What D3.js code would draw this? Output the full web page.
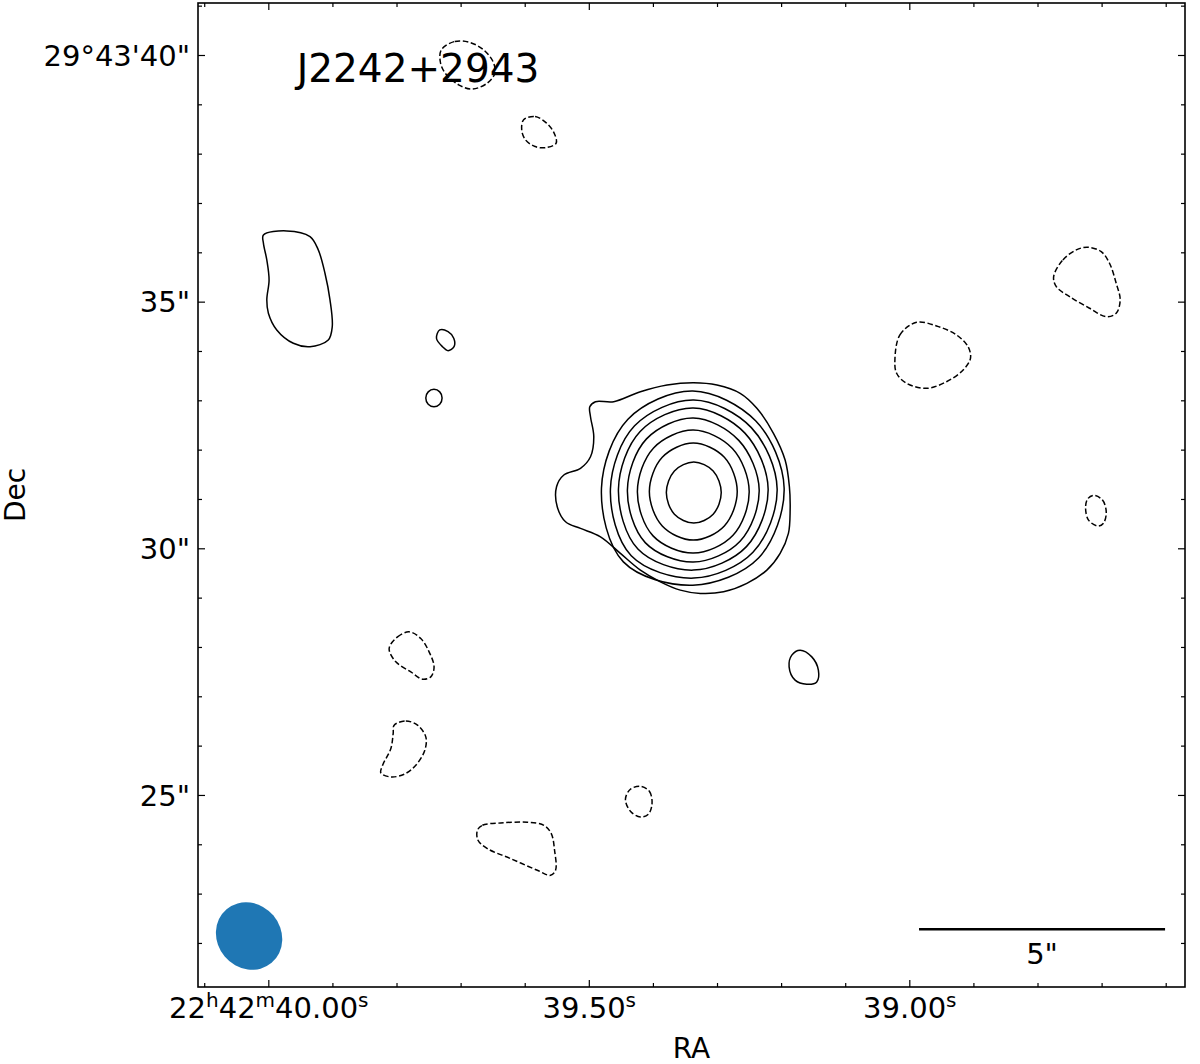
<!DOCTYPE html>
<html>
<head>
<meta charset="utf-8">
<script src="https://cdn.jsdelivr.net/npm/d3@7"></script>
<style>
  html, body { margin: 0; padding: 0; background: #fff; }
  svg { display: block; font-family: "DejaVu Sans", sans-serif; }
</style>
</head>
<body>
<svg id="chart" width="1200" height="1064"></svg>
<script>
// ---------------- DATA ----------------
// Field limits: RA seconds (22h42m..) and Dec arcsec (29°43'..)
const raLimits = [40.1097, 38.5699];
const decLimits = [41.054, 21.107];

// Source reference position (offsets of contours are relative to this)
const sourceRA = 39.337;     // s
const sourceDec = 31.14;     // arcsec
const decDegrees = 29.7253;

// Ticks
const raMajorTicks = [40.00, 39.50, 39.00];
const raMinorTicks = [40.1, 39.9, 39.8, 39.7, 39.6, 39.4, 39.3, 39.2, 39.1, 38.9, 38.8, 38.7, 38.6];
const raTickLabels = [
  [["22", "h"], ["42", "m"], ["40.00", "s"]],
  [["39.50", "s"]],
  [["39.00", "s"]]
];
const decMajorTicks = [40, 35, 30, 25];
const decMinorTicks = [41, 39, 38, 37, 36, 34, 33, 32, 31, 29, 28, 27, 26, 24, 23, 22];
const decTickLabels = ["29°43'40\"", "35\"", "30\"", "25\""];

// Contours: [east offset arcsec, north offset arcsec]
const centralOuter = [[2.103,1.730],[1.988,1.832],[1.617,1.832],[1.075,2.034],[0.533,2.170],[-0.006,2.217],[-0.481,2.170],[-0.953,2.002],[-1.292,1.698],[-1.629,1.191],[-1.866,0.649],[-1.953,0.108],[-1.968,-0.365],[-1.933,-0.838],[-1.765,-1.243],[-1.495,-1.582],[-1.089,-1.852],[-0.615,-2.022],[-0.142,-2.055],[0.264,-1.988],[0.669,-1.819],[1.075,-1.582],[1.481,-1.243],[1.886,-0.907],[2.292,-0.736],[2.596,-0.602],[2.765,-0.298],[2.779,0.108],[2.631,0.345],[2.292,0.481],[2.089,0.716],[2.022,1.122],[2.089,1.527]];
const ring1 = [[-0.568,-0.010],[-0.404,0.428],[-0.010,0.609],[0.384,0.428],[0.548,-0.010],[0.384,-0.448],[-0.010,-0.629],[-0.404,-0.448]];
const ring2 = [[-0.893,0.010],[-0.631,0.706],[0,0.994],[0.631,0.706],[0.893,0.010],[0.631,-0.686],[0,-0.974],[-0.631,-0.686]];
const ring3 = [[-1.136,0.010],[-0.795,0.883],[0,1.257],[0.807,0.895],[1.136,0.010],[0.818,-0.888],[0,-1.237],[-0.807,-0.875]];
const ring4 = [[-1.339,0.041],[-0.924,1.048],[0,1.501],[0.951,1.078],[1.339,0.041],[0.977,-1.025],[0,-1.419],[-0.951,-0.996]];
const ring5 = [[-1.521,0.061],[-1.049,1.195],[0,1.704],[1.080,1.228],[1.521,0.061],[1.126,-1.155],[0,-1.582],[-1.080,-1.106]];
const ring6 = [[-1.704,0.061],[-1.179,1.306],[-0.010,1.866],[1.193,1.343],[1.684,0.061],[1.261,-1.293],[-0.010,-1.744],[-1.213,-1.221]];
const ring7 = [[-1.846,0.081],[-1.271,1.439],[0.010,2.049],[1.328,1.478],[1.866,0.081],[1.421,-1.415],[0.010,-1.887],[-1.326,-1.336]];
const blobWest = [[8.736,5.213],[8.262,5.294],[7.789,5.179],[7.621,4.909],[7.485,4.436],[7.383,3.895],[7.337,3.353],[7.418,3.083],[7.789,2.947],[8.128,3.016],[8.465,3.286],[8.635,3.625],[8.667,3.895],[8.621,4.300],[8.667,4.706],[8.736,5.045]];
const ovalNW = [[5.152,3.286],[4.984,3.252],[4.868,3.118],[4.862,2.947],[4.984,2.866],[5.097,2.947],[5.219,3.118]];
const ovalW = [[5.105,1.907],[5.153,2.031],[5.270,2.083],[5.387,2.031],[5.436,1.907],[5.387,1.782],[5.270,1.730],[5.153,1.782]];
const ovalSE = [[-2.170,-3.205],[-2.408,-3.341],[-2.542,-3.611],[-2.509,-3.848],[-2.306,-3.895],[-2.069,-3.813],[-1.947,-3.544],[-2.002,-3.306]];

const negTitle = [[5.120,8.966],[4.848,9.134],[4.538,9.114],[4.264,8.966],[4.071,8.728],[4.030,8.493],[4.187,8.290],[4.497,8.168],[4.769,8.256],[5.043,8.493],[5.142,8.728]];
const negNorth = [[3.448,7.546],[3.215,7.613],[2.982,7.479],[2.828,7.276],[2.787,7.073],[2.982,6.984],[3.215,7.004],[3.410,7.140],[3.487,7.343]];
const negNE = [[-7.323,4.367],[-7.511,4.706],[-7.783,4.909],[-8.018,4.963],[-8.290,4.874],[-8.458,4.639],[-8.594,4.233],[-8.675,3.895],[-8.594,3.625],[-8.392,3.556],[-8.053,3.726],[-7.647,3.961],[-7.377,4.164]];
const negE = [[-4.097,2.677],[-4.199,3.185],[-4.538,3.442],[-4.943,3.367],[-5.349,3.185],[-5.584,2.947],[-5.633,2.712],[-5.483,2.475],[-5.146,2.237],[-4.740,2.103],[-4.335,2.205],[-4.132,2.408]];
const negEsmall = [[-8.134,-0.067],[-8.316,-0.162],[-8.392,-0.406],[-8.337,-0.629],[-8.225,-0.690],[-8.032,-0.568],[-7.972,-0.325],[-8.012,-0.142]];
const negSW1 = [[6.181,-3.170],[6.010,-2.935],[5.775,-2.834],[5.538,-2.968],[5.369,-3.239],[5.268,-3.544],[5.335,-3.746],[5.503,-3.793],[5.740,-3.645],[6.045,-3.442]];
const negSW2 = [[6.079,-4.726],[5.842,-4.639],[5.605,-4.726],[5.436,-4.963],[5.456,-5.233],[5.639,-5.538],[5.876,-5.720],[6.146,-5.775],[6.349,-5.694],[6.314,-5.538],[6.146,-5.199],[6.099,-4.895]];
const negS = [[1.075,-5.963],[0.893,-6.065],[0.838,-6.308],[0.913,-6.531],[1.075,-6.586],[1.278,-6.471],[1.379,-6.227],[1.278,-6.024]];
const negSS = [[4.387,-6.856],[4.286,-6.755],[3.915,-6.708],[3.373,-6.694],[3.036,-6.755],[2.886,-6.923],[2.819,-7.262],[2.799,-7.667],[2.901,-7.769],[3.170,-7.667],[3.712,-7.430],[4.185,-7.227],[4.375,-7.059]];

const positiveContours = [centralOuter, ring1, ring2, ring3, ring4, ring5, ring6, ring7, blobWest, ovalNW, ovalW, ovalSE];
const negativeContours = [negTitle, negNorth, negNE, negE, negEsmall, negSW1, negSW2, negS, negSS];

// Beam (position RA s / Dec arcsec, axes arcsec, PA deg)
const beamRA = 40.030, beamDec = 22.14;
const beamMaj = 1.42, beamMin = 1.29, beamPA = 40;

// Scale bar
const scaleBarLength = 5;          // arcsec
const scaleBarEndRA = 38.601, scaleBarDec = 22.28;
const scaleBarLabel = "5\"";

const titleText = "J2242+2943";
const xLabel = "RA", yLabel = "Dec";

// ---------------- DRAW ----------------
const svg = d3.select("#chart");
const L = 198, T = 3, PW = 987, PH = 984;
const x = d3.scaleLinear().domain(raLimits).range([L, L + PW]);
const y = d3.scaleLinear().domain(decLimits).range([T, T + PH]);
const arcsecPerSec = 15 * Math.cos(decDegrees * Math.PI / 180);
const pxPerArcsec = Math.abs(y(0) - y(1));

svg.append("defs").append("clipPath").attr("id", "clip")
  .append("rect").attr("x", L).attr("y", T).attr("width", PW).attr("height", PH);

const plot = svg.append("g").attr("clip-path", "url(#clip)");

const line = d3.line()
  .x(d => x(sourceRA + d[0] / arcsecPerSec))
  .y(d => y(sourceDec + d[1]))
  .curve(d3.curveCatmullRomClosed.alpha(0.5));

plot.selectAll("path.pos").data(positiveContours).join("path")
  .attr("class", "pos").attr("d", line)
  .attr("fill", "none").attr("stroke", "#000").attr("stroke-width", 1.5);

plot.selectAll("path.neg").data(negativeContours).join("path")
  .attr("class", "neg").attr("d", line)
  .attr("fill", "none").attr("stroke", "#000").attr("stroke-width", 1.5)
  .attr("stroke-dasharray", "5.5,2.6");

// Beam
plot.append("ellipse")
  .attr("cx", 0).attr("cy", 0)
  .attr("rx", beamMaj / 2 * pxPerArcsec)
  .attr("ry", beamMin / 2 * pxPerArcsec)
  .attr("transform", `translate(${x(beamRA)},${y(beamDec)}) rotate(${90 - beamPA})`)
  .attr("fill", "#1f77b4");

// Scale bar
const sbX1 = x(scaleBarEndRA + scaleBarLength / arcsecPerSec), sbX2 = x(scaleBarEndRA);
plot.append("line")
  .attr("x1", sbX1).attr("x2", sbX2)
  .attr("y1", y(scaleBarDec)).attr("y2", y(scaleBarDec))
  .attr("stroke", "#000").attr("stroke-width", 2.5);
svg.append("text")
  .attr("x", (sbX1 + sbX2) / 2).attr("y", y(scaleBarDec) + 35)
  .attr("text-anchor", "middle").attr("font-size", 29)
  .text(scaleBarLabel);

// Title
svg.append("text")
  .attr("x", L + 0.1 * PW).attr("y", T + 79)
  .attr("font-size", 39).text(titleText);

// Axes ticks (inward on all sides)
function tickAxis(axisFn, scale, vals, size, transform) {
  const g = svg.append("g").attr("transform", transform)
    .call(axisFn(scale).tickValues(vals).tickSize(size).tickSizeOuter(0).tickFormat(""));
  g.select(".domain").remove();
  g.selectAll(".tick line").attr("stroke", "#000").attr("stroke-width", 1.2);
  return g;
}
// bottom
const gBottom = tickAxis(d3.axisBottom, x, raMajorTicks, -7, `translate(0,${T + PH})`);
tickAxis(d3.axisBottom, x, raMinorTicks, -4, `translate(0,${T + PH})`);
// top
tickAxis(d3.axisTop, x, raMajorTicks, -7, `translate(0,${T})`);
tickAxis(d3.axisTop, x, raMinorTicks, -4, `translate(0,${T})`);
// left
const gLeft = tickAxis(d3.axisLeft, y, decMajorTicks, -7, `translate(${L},0)`);
tickAxis(d3.axisLeft, y, decMinorTicks, -4, `translate(${L},0)`);
// right
tickAxis(d3.axisRight, y, decMajorTicks, -7, `translate(${L + PW},0)`);
tickAxis(d3.axisRight, y, decMinorTicks, -4, `translate(${L + PW},0)`);

// Bottom labels with superscripts
gBottom.selectAll(".tick").each(function (d, i) {
  const t = d3.select(this).append("text")
    .attr("x", 0).attr("y", 31)
    .attr("text-anchor", "middle").attr("fill", "#000")
    .attr("font-size", 29).attr("font-family", "DejaVu Sans, sans-serif");
  raTickLabels[i].forEach(([main, sup]) => {
    t.append("tspan").text(main);
    t.append("tspan").attr("font-size", 20).attr("baseline-shift", "11").text(sup);
  });
});
// Left labels
gLeft.selectAll(".tick").each(function (d, i) {
  d3.select(this).append("text")
    .attr("x", -8).attr("y", 0).attr("dy", "0.35em")
    .attr("text-anchor", "end").attr("fill", "#000")
    .attr("font-size", 29).attr("font-family", "DejaVu Sans, sans-serif")
    .text(decTickLabels[i]);
});

// Frame
svg.append("rect").attr("x", L).attr("y", T).attr("width", PW).attr("height", PH)
  .attr("fill", "none").attr("stroke", "#000").attr("stroke-width", 1.6);

// Axis labels
svg.append("text").attr("x", L + PW / 2).attr("y", 1058)
  .attr("text-anchor", "middle").attr("font-size", 28).text(xLabel);
svg.append("text").attr("transform", `translate(25,${T + PH / 2}) rotate(-90)`)
  .attr("text-anchor", "middle").attr("font-size", 28).text(yLabel);
</script>
</body>
</html>
